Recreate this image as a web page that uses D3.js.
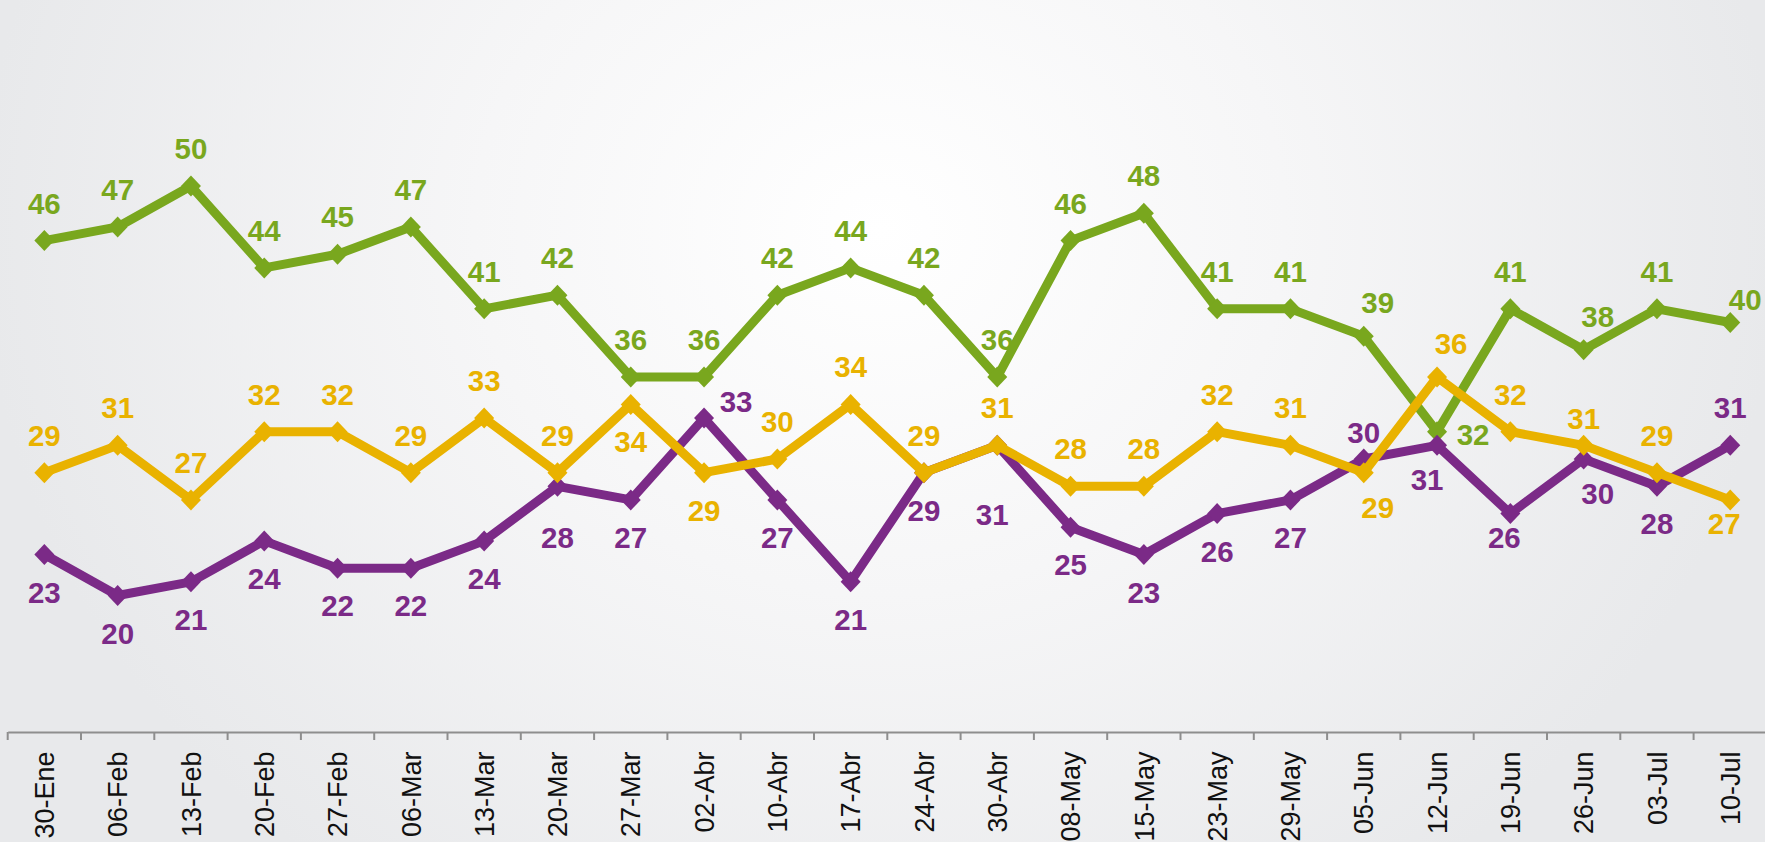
<!DOCTYPE html>
<html>
<head>
<meta charset="utf-8">
<script src="https://cdn.jsdelivr.net/npm/d3@7"></script>
<style>
  html, body { margin: 0; padding: 0; overflow: hidden; }
  svg { display: block; }
</style>
</head>
<body>
<svg id="chart" width="1765" height="842"></svg>
<script>
// ---- data ----
const dates = ["30-Ene","06-Feb","13-Feb","20-Feb","27-Feb","06-Mar","13-Mar","20-Mar","27-Mar","02-Abr","10-Abr","17-Abr","24-Abr","30-Abr","08-May","15-May","23-May","29-May","05-Jun","12-Jun","19-Jun","26-Jun","03-Jul","10-Jul"];
const serieVerde   = [46,47,50,44,45,47,41,42,36,36,42,44,42,36,46,48,41,41,39,32,41,38,41,40];
const serieAmarilla = [29,31,27,32,32,29,33,29,34,29,30,34,29,31,28,28,32,31,29,36,32,31,29,27];
const serieMorada  = [23,20,21,24,22,22,24,28,27,33,27,21,29,31,25,23,26,27,30,31,26,30,28,31];

// label placement codes (layout only)
const posVerde    = ["a","a","a","a","a","a","a","a","a","a","a","a","a","a","a","a","a","a","ar","rb","a","ar","a","ra"];
const posAmarilla = ["a","a","a","a","a","a","a","a","b","b","a","a","a","a","a","a","a","a","br","ar","a","an","a","bn"];
const posMorada   = ["b","b","b","b","b","b","b","bm","b","r","b","b","b","bf","b","b","b","b","an","bl","bn","br","b","a"];

const offsets = {
  a:[0,-27], b:[0,48], ar:[14,-23], r:[32,-6], rb:[36,13], ra:[15,-13],
  an:[0,-16], br:[14,45], bl:[-10,45], bn:[-6,34], bm:[0,62], bf:[-5,80]
};

const colors = { verde:"#79a71e", amarilla:"#e9b200", morada:"#7b2a87" };

// ---- setup ----
const svg = d3.select("#chart");
const W = 1765, H = 842;

const defs = svg.append("defs");
const grad = defs.append("radialGradient")
  .attr("id","bg").attr("gradientUnits","userSpaceOnUse")
  .attr("cx",880).attr("cy",230).attr("r",900)
  .attr("gradientTransform","translate(880,230) scale(1,0.9) translate(-880,-230)");
grad.append("stop").attr("offset","0%").attr("stop-color","#ffffff");
grad.append("stop").attr("offset","45%").attr("stop-color","#f6f6f7");
grad.append("stop").attr("offset","100%").attr("stop-color","#e8e9eb");
svg.append("rect").attr("width",W).attr("height",H).attr("fill","url(#bg)");

const x = d3.scaleBand().domain(dates).range([7.7, 7.7 + 24*73.3]).paddingInner(0).paddingOuter(0);
const y = d3.scaleLinear().domain([10,60]).range([732, 49.5]);
const cx = d => x(d) + x.bandwidth()/2;

// ---- axis ----
const axisG = svg.append("g").attr("transform",`translate(0,${y(10)})`)
  .call(d3.axisBottom(x).tickSize(0).tickSizeOuter(0));
axisG.select(".domain").attr("stroke","#8e8e8e").attr("stroke-width",2);
axisG.selectAll(".tick text")
  .attr("transform","rotate(-90)")
  .attr("x",-19.5).attr("y",0).attr("dy","0.36em")
  .attr("text-anchor","end")
  .attr("font-family","'Liberation Sans', Arial, sans-serif")
  .attr("font-size","27px")
  .attr("fill","#111");
const bounds = dates.map(d => x(d)).concat([x.range()[1]]);
axisG.selectAll(".bt").data(bounds).enter().append("line")
  .attr("class","bt")
  .attr("x1",d=>d).attr("x2",d=>d).attr("y1",0).attr("y2",8)
  .attr("stroke","#8e8e8e").attr("stroke-width",2);

// ---- series ----
const series = [
  {key:"verde", values:serieVerde, pos:posVerde},
  {key:"morada", values:serieMorada, pos:posMorada},
  {key:"amarilla", values:serieAmarilla, pos:posAmarilla}
];

const line = d3.line().x((v,i)=>cx(dates[i])).y(v=>y(v));
const diamond = "M0,-10.5L10,0L0,10.5L-10,0Z";

series.forEach(s => {
  const g = svg.append("g");
  g.append("path").datum(s.values)
    .attr("d", line)
    .attr("fill","none")
    .attr("stroke", colors[s.key])
    .attr("stroke-width", 9)
    .attr("stroke-linejoin","round");
  g.selectAll("path.m").data(s.values).enter().append("path")
    .attr("class","m")
    .attr("d", diamond)
    .attr("transform",(v,i)=>`translate(${cx(dates[i])},${y(v)})`)
    .attr("fill", colors[s.key]);
});

// labels drawn on top
series.forEach(s => {
  svg.append("g").selectAll("text").data(s.values).enter().append("text")
    .attr("x",(v,i)=>cx(dates[i]) + offsets[s.pos[i]][0])
    .attr("y",(v,i)=>y(v) + offsets[s.pos[i]][1])
    .attr("text-anchor","middle")
    .attr("font-family","'Liberation Sans', Arial, sans-serif")
    .attr("font-weight","bold")
    .attr("font-size","29.5px")
    .attr("fill", colors[s.key])
    .text(v=>v);
});
</script>
</body>
</html>
